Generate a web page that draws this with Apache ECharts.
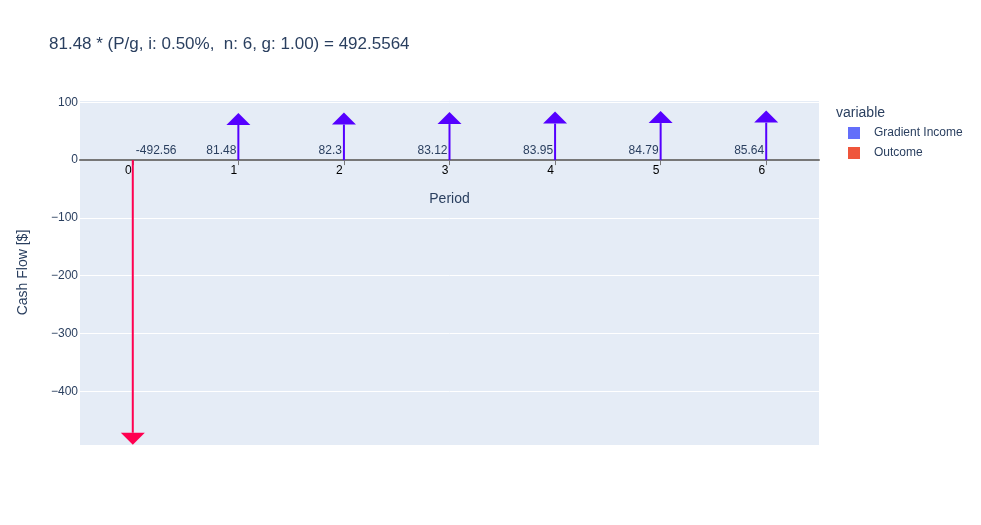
<!DOCTYPE html>
<html>
<head>
<meta charset="utf-8">
<script src="https://cdn.jsdelivr.net/npm/echarts@6/dist/echarts.min.js"></script>
<style>html,body{margin:0;padding:0;background:#fff}#c{width:981px;height:525px}</style>
</head>
<body>
<div id="c"></div>
<script>
const periods = ['0', '1', '2', '3', '4', '5', '6'];
const incomePeriods = [1, 2, 3, 4, 5, 6];
const incomeValues = [81.48, 82.3, 83.12, 83.95, 84.79, 85.64];
const outcomePeriods = [0];
const outcomeValues = [-492.56];
const incomeLabels = ['81.48', '82.3', '83.12', '83.95', '84.79', '85.64'];
const outcomeLabels = ['-492.56'];

const FONT = '"Liberation Sans", Arial, sans-serif';
const TXT = '#2a3f5f';
const GRID = { left: 80, top: 100, width: 739, height: 345 };

function arrowRenderer(color, labels) {
  return function (params, api) {
    const x = api.value(0), v = api.value(1);
    const base = api.coord([x, 0]);
    const tip = api.coord([x, v]);
    const dir = v >= 0 ? 1 : -1;
    const headH = 12, headW = 12;
    const neck = tip[1] + dir * headH;
    const lab = labels[params.dataIndex];
    const positive = v >= 0;
    return {
      type: 'group',
      children: [
        { type: 'line', shape: { x1: base[0], y1: base[1], x2: base[0], y2: neck },
          style: { stroke: color, lineWidth: 2 } },
        { type: 'polygon', shape: { points: [[tip[0], tip[1]], [tip[0] - headW, neck], [tip[0] + headW, neck]] },
          style: { fill: color } },
        { type: 'text', z2: 10, style: { text: lab, x: positive ? base[0] - 2 : base[0] + 3, y: base[1] - 9,
          align: positive ? 'right' : 'left', verticalAlign: 'middle', fill: TXT,
          font: '12px ' + FONT } }
      ]
    };
  };
}

const chart = echarts.init(document.getElementById('c'), null, { renderer: 'canvas' });
chart.setOption({
  animation: false,
  backgroundColor: '#fff',
  title: [
    { text: '81.48 * (P/g, i: 0.50%,  n: 6, g: 1.00) = 492.5564', left: 49, top: 36, padding: 0,
      textStyle: { fontFamily: FONT, fontSize: 17, fontWeight: 'normal', color: TXT } },
    { text: 'variable', left: 836, top: 106, padding: 0,
      textStyle: { fontFamily: FONT, fontSize: 14, fontWeight: 'normal', color: TXT } }
  ],
  legend: {
    orient: 'vertical', left: 848, top: 127, itemWidth: 12, itemHeight: 12, itemGap: 8, padding: 0,
    icon: 'rect',
    textStyle: { fontFamily: FONT, fontSize: 12, color: TXT, padding: [0, 0, 0, 9] },
    data: [
      { name: 'Gradient Income', itemStyle: { color: '#636efa' } },
      { name: 'Outcome', itemStyle: { color: '#EF553B' } }
    ]
  },
  grid: Object.assign({ show: true, backgroundColor: '#E5ECF6', borderWidth: 0 }, GRID),
  xAxis: {
    type: 'category', data: periods, boundaryGap: true,
    name: 'Period', nameLocation: 'middle', nameGap: 32,
    nameTextStyle: { fontFamily: FONT, fontSize: 14, color: TXT },
    axisLine: { onZero: false, lineStyle: { color: '#777', width: 2 } },
    axisTick: { show: true, alignWithLabel: true, length: 5, lineStyle: { color: '#777' } },
    axisLabel: { fontFamily: FONT, fontSize: 12, color: '#000', margin: 5, padding: [0, 9, 0, 0] },
    splitLine: { show: false }
  },
  yAxis: {
    type: 'value', min: -493, max: 104, splitNumber: 6,
    name: 'Cash Flow [$]', nameLocation: 'middle', nameGap: 50,
    nameTextStyle: { fontFamily: FONT, fontSize: 14, color: TXT },
    axisLine: { show: false },
    axisTick: { show: false },
    axisLabel: { fontFamily: FONT, fontSize: 12, color: TXT, margin: 2, showMinLabel: false, showMaxLabel: false,
      formatter: v => (v < 0 ? '\u2212' + Math.abs(v) : String(v)) },
    splitLine: { show: true, lineStyle: { color: '#fff', width: 1 } }
  },
  series: [
    { name: 'Gradient Income', type: 'custom', itemStyle: { color: '#636efa' },
      renderItem: arrowRenderer('#5500ff', incomeLabels),
      data: incomePeriods.map((p, i) => [p, incomeValues[i]]) },
    { name: 'Outcome', type: 'custom', itemStyle: { color: '#EF553B' },
      renderItem: arrowRenderer('#ff0050', outcomeLabels),
      data: outcomePeriods.map((p, i) => [p, outcomeValues[i]]) }
  ]
});
// Move the x axis (line, ticks, labels, name) up to y = 0 using the library's own scale
const zeroY = chart.convertToPixel({ yAxisIndex: 0 }, 0);
chart.setOption({ xAxis: { offset: -((GRID.top + GRID.height) - zeroY) } });
</script>
</body>
</html>
